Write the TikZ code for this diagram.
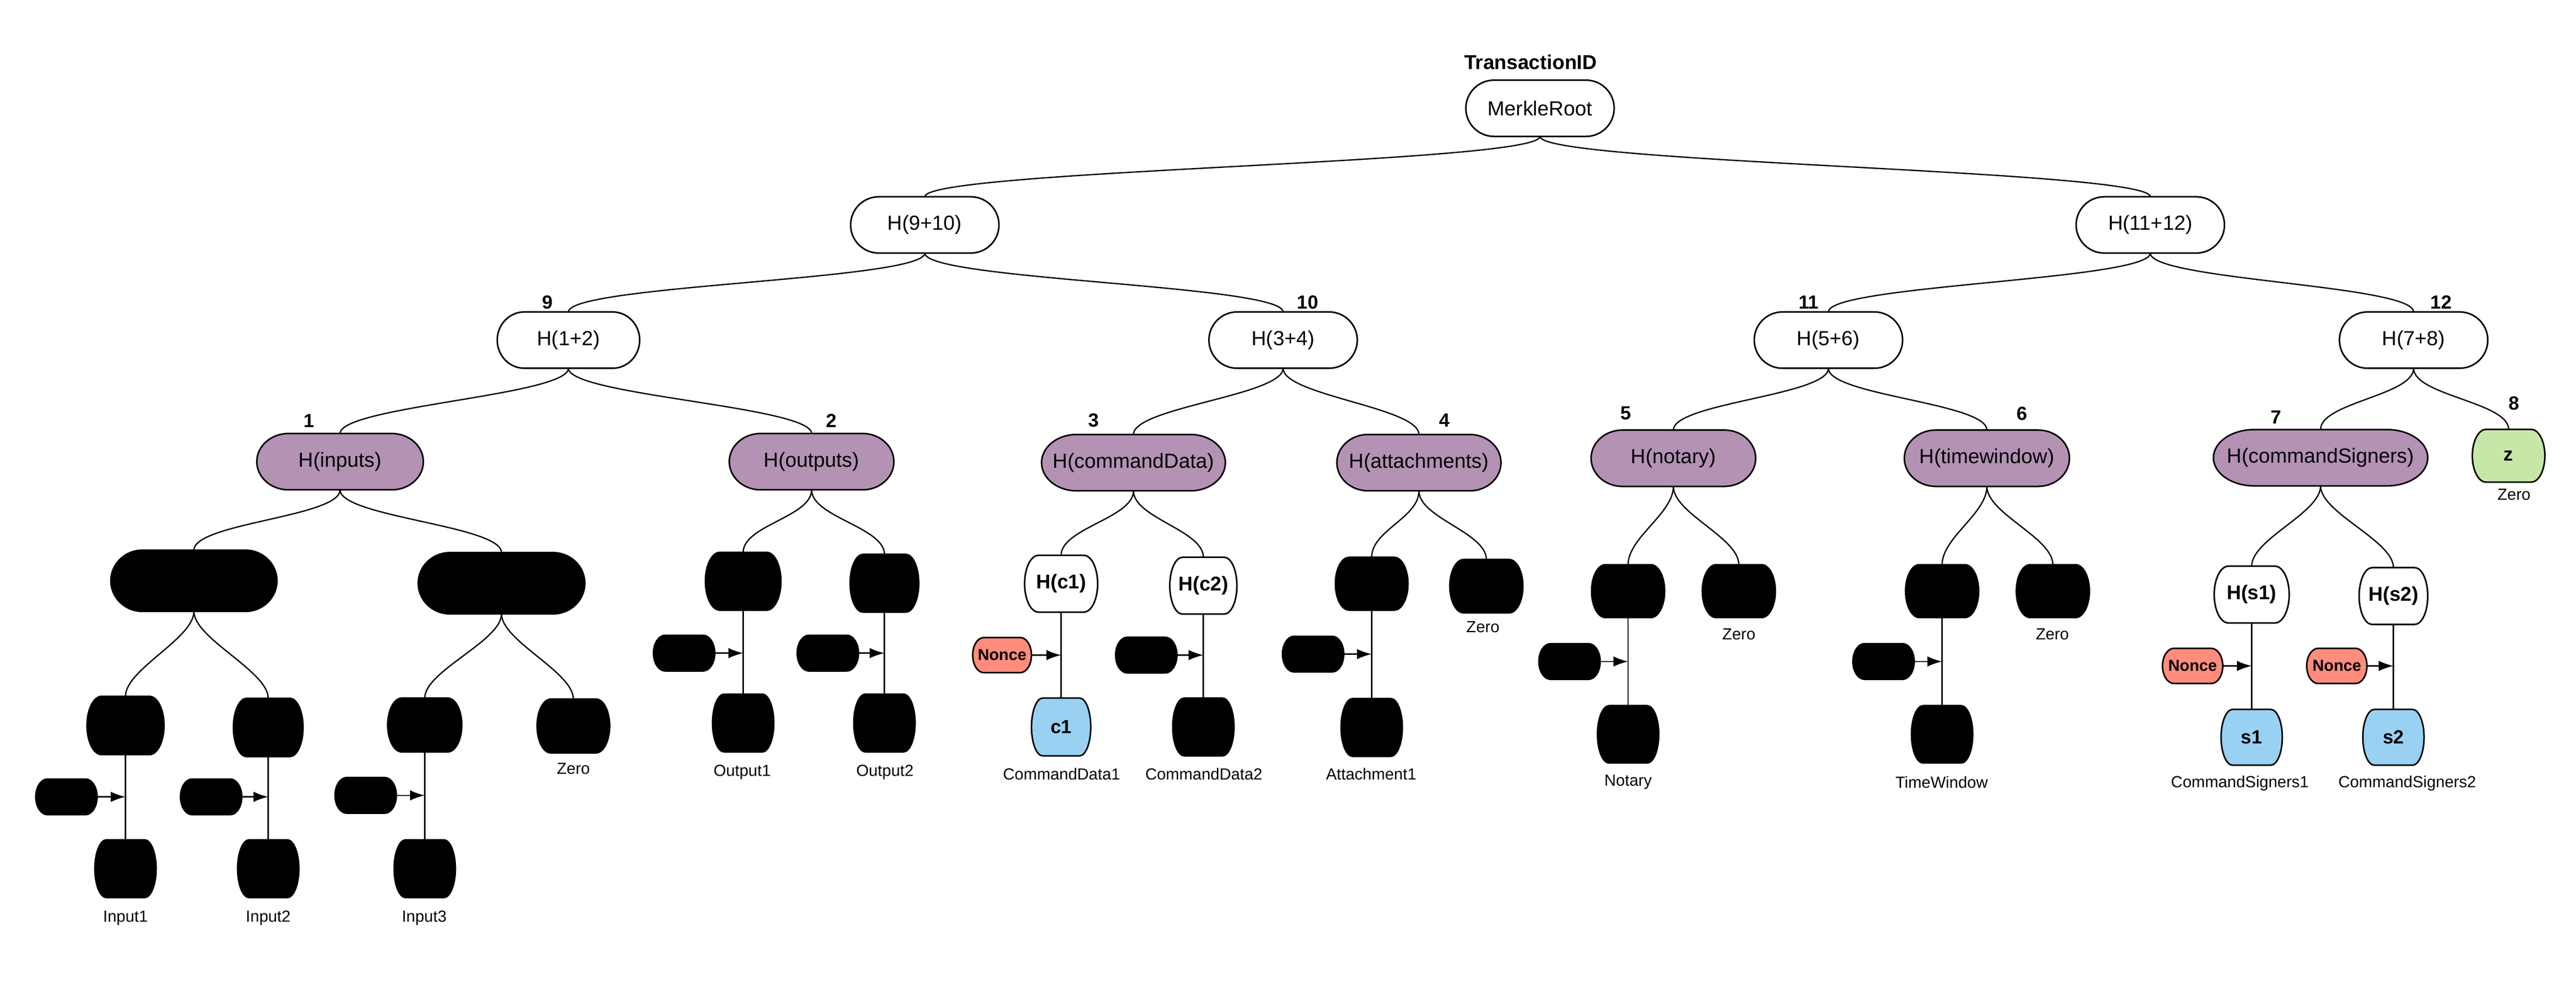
\documentclass[tikz,border=0pt]{standalone}
\usepackage{fontspec}
\setmainfont{Liberation Sans}
\usepackage{tikz}
\usetikzlibrary{calc}
\usetikzlibrary{backgrounds}
\usetikzlibrary{arrows.meta}
\tikzset{>={Latex[length=8.5pt,width=6pt]}}
\usepackage{xcolor}
\definecolor{hpurple}{RGB}{179,146,180}
\definecolor{leafblue}{RGB}{153,209,243}
\definecolor{noncered}{RGB}{255,140,125}
\definecolor{zerogreen}{RGB}{199,231,168}
\tikzstyle{hbox}=[inner sep=0pt,minimum height=1.13cm,font=\fontsize{11.8}{14}\selectfont]
\tikzstyle{wbox}=[hbox,minimum width=3cm]
\tikzstyle{pbox}=[hbox,minimum width=3.33cm]
\tikzstyle{blob}=[hbox,minimum width=3.36cm,minimum height=1.23cm]
\tikzstyle{barrel}=[hbox,minimum width=1.46cm,minimum height=1.1cm]
\tikzstyle{hbar}=[barrel,font=\bfseries\fontsize{11.5}{13}\selectfont]
\tikzstyle{lowbar}=[barrel,minimum width=1.23cm,minimum height=1.16cm]
\tikzstyle{leaf}=[lowbar,font=\bfseries\fontsize{11}{13}\selectfont]
\tikzstyle{pill}=[hbox,minimum width=1.23cm,minimum height=0.71cm]
\tikzstyle{nonce}=[pill,font=\bfseries\fontsize{9.2}{11}\selectfont]
\tikzstyle{link}=[line width=0.75pt]
\tikzstyle{feed}=[->,line width=0.75pt]
\tikzstyle{lbl}=[font=\fontsize{9.3}{11}\selectfont,inner sep=0pt]
\tikzstyle{num}=[font=\bfseries\fontsize{11}{13}\selectfont,inner sep=0pt]

% outline with elliptic ends, drawn behind a named node
\def\nodeoutline#1#2{%
  \path[draw,line width=0.9pt,fill=#2] let \p1=(#1.north east), \p2=(#1.south west),
    \n1={(\y1-\y2)/2}, \n2={0.19*(\x1-\x2)} in
    (\x2+\n2,\y1) -- (\x1-\n2,\y1) arc[start angle=90,end angle=-90,x radius=\n2,y radius=\n1]
    -- (\x2+\n2,\y2) arc[start angle=270,end angle=90,x radius=\n2,y radius=\n1] -- cycle;}

\begin{document}
\begin{tikzpicture}[y=-1cm]
  \useasboundingbox (0,0) rectangle (52.34,19.95);
  \def\d{0.55}

  % root and upper levels
  \node[num,font=\bfseries\fontsize{11.6}{14}\selectfont] (txid) at (31.10,1.26) {TransactionID};
  \node[wbox] (root) at (31.29,2.20) {MerkleRoot};
  \node[wbox] (h910) at (18.79,4.57) {H(9+10)};
  \node[wbox] (h1112) at (43.69,4.57) {H(11+12)};
  \node[wbox,minimum width=2.88cm] (h12) at (11.55,6.91) {H(1+2)};
  \node[wbox] (h34) at (26.07,6.91) {H(3+4)};
  \node[wbox] (h56) at (37.15,6.91) {H(5+6)};
  \node[wbox] (h78) at (49.04,6.91) {H(7+8)};
  \node[num] (n9) at (11.12,6.14) {9};
  \node[num] (n10) at (26.57,6.14) {10};
  \node[num] (n11) at (36.75,6.14) {11};
  \node[num] (n12) at (49.60,6.14) {12};

  % component hashes
  \node[pbox,minimum width=3.37cm] (hin) at (6.91,9.38) {H(inputs)};
  \node[pbox] (hout) at (16.49,9.38) {H(outputs)};
  \node[pbox,minimum width=3.72cm] (hcmd) at (23.03,9.40) {H(commandData)};
  \node[pbox,minimum width=3.32cm] (hatt) at (28.83,9.40) {H(attachments)};
  \node[pbox] (hnot) at (34.00,9.31) {H(notary)};
  \node[pbox,minimum width=3.34cm] (htw) at (40.37,9.31) {H(timewindow)};
  \node[pbox,minimum width=4.34cm] (hsig) at (47.15,9.30) {H(commandSigners)};
  \node[leaf,minimum width=1.46cm,minimum height=1.06cm] (z) at (50.97,9.26) {z};
  \node[lbl] (zz) at (51.08,10.05) {Zero};
  \node[num] (n1) at (6.28,8.55) {1};
  \node[num] (n2) at (16.89,8.55) {2};
  \node[num] (n3) at (22.22,8.54) {3};
  \node[num] (n4) at (29.35,8.54) {4};
  \node[num] (n5) at (33.03,8.40) {5};
  \node[num] (n6) at (41.08,8.40) {6};
  \node[num] (n7) at (46.24,8.48) {7};
  \node[num] (n8) at (51.08,8.19) {8};

  % inputs
  \node[blob] (ia) at (3.94,11.80) {};
  \node[blob,minimum width=3.37cm] (ib) at (10.19,11.85) {};
  \node[barrel,minimum width=1.55cm,minimum height=1.17cm] (ia1) at (2.55,14.74) {};
  \node[barrel,minimum width=1.40cm,minimum height=1.17cm] (ia2) at (5.45,14.78) {};
  \node[barrel,minimum width=1.49cm,minimum height=1.08cm] (ib1) at (8.63,14.73) {};
  \node[barrel,minimum height=1.08cm] (ib2) at (11.65,14.75) {};
  \node[lbl] (zin) at (11.65,15.62) {Zero};
  \node[pill] (k1) at (1.35,16.19) {};
  \node[pill] (k2) at (4.29,16.19) {};
  \node[pill] (k3) at (7.43,16.16) {};
  \node[lowbar] (ia1b) at (2.55,17.65) {};
  \node[lowbar] (ia2b) at (5.45,17.65) {};
  \node[lowbar] (ib1b) at (8.63,17.65) {};
  \node[lbl] (in1) at (2.55,18.65) {Input1};
  \node[lbl] (in2) at (5.45,18.65) {Input2};
  \node[lbl] (in3) at (8.62,18.65) {Input3};

  % outputs
  \node[barrel,minimum width=1.52cm,minimum height=1.16cm] (oa) at (15.10,11.81) {};
  \node[barrel,minimum width=1.38cm,minimum height=1.16cm] (ob) at (17.97,11.85) {};
  \node[pill] (k4) at (13.90,13.27) {};
  \node[pill] (k5) at (16.82,13.27) {};
  \node[lowbar,minimum height=1.16cm] (oab) at (15.10,14.69) {};
  \node[lowbar,minimum height=1.16cm] (obb) at (17.97,14.69) {};
  \node[lbl] (out1) at (15.08,15.69) {Output1};
  \node[lbl] (out2) at (17.98,15.69) {Output2};

  % command data
  \node[hbar,minimum width=1.47cm,minimum height=1.14cm] (hc1) at (21.56,11.86) {H(c1)};
  \node[hbar,minimum width=1.35cm,minimum height=1.14cm] (hc2) at (24.45,11.90) {H(c2)};
  \node[nonce,minimum width=1.18cm,minimum height=0.70cm] (nc1) at (20.36,13.31) {Nonce};
  \node[pill] (k6) at (23.29,13.31) {};
  \node[leaf,minimum width=1.19cm] (c1) at (21.56,14.77) {c1};
  \node[lowbar] (cd2) at (24.45,14.77) {};
  \node[lbl] (cdl1) at (21.57,15.73) {CommandData1};
  \node[lbl] (cdl2) at (24.46,15.73) {CommandData2};

  % attachments
  \node[barrel,minimum height=1.06cm] (at1) at (27.87,11.86) {};
  \node[barrel,minimum width=1.47cm,minimum height=1.07cm] (at2) at (30.20,11.91) {};
  \node[lbl] (zat) at (30.13,12.74) {Zero};
  \node[pill] (k7) at (26.68,13.29) {};
  \node[lowbar] (at1b) at (27.87,14.78) {};
  \node[lbl] (atl) at (27.86,15.73) {Attachment1};

  % notary
  \node[barrel,minimum width=1.47cm,minimum height=1.06cm] (no1) at (33.08,12.01) {};
  \node[barrel,minimum width=1.47cm,minimum height=1.06cm] (no2) at (35.33,12.01) {};
  \node[lbl] (zno) at (35.33,12.89) {Zero};
  \node[pill] (k8) at (31.89,13.44) {};
  \node[lowbar,minimum height=1.15cm] (no1b) at (33.08,14.92) {};
  \node[lbl] (nol) at (33.08,15.89) {Notary};

  % time window
  \node[barrel,minimum width=1.47cm,minimum height=1.06cm] (tw1) at (39.46,12.01) {};
  \node[barrel,minimum width=1.47cm,minimum height=1.06cm] (tw2) at (41.71,12.01) {};
  \node[lbl] (ztw) at (41.70,12.89) {Zero};
  \node[pill] (k9) at (38.27,13.44) {};
  \node[lowbar,minimum height=1.15cm] (tw1b) at (39.46,14.92) {};
  \node[lbl] (twl) at (39.45,15.89) {TimeWindow};

  % command signers
  \node[hbar,minimum width=1.51cm,minimum height=1.14cm] (hs1) at (45.75,12.08) {H(s1)};
  \node[hbar,minimum width=1.38cm,minimum height=1.14cm] (hs2) at (48.63,12.11) {H(s2)};
  \node[nonce,minimum width=1.21cm,minimum height=0.70cm] (ns1) at (44.55,13.53) {Nonce};
  \node[nonce,minimum width=1.21cm,minimum height=0.70cm] (ns2) at (47.48,13.53) {Nonce};
  \node[leaf,minimum height=1.12cm] (s1) at (45.75,14.98) {s1};
  \node[leaf,minimum height=1.12cm] (s2) at (48.63,14.98) {s2};
  \node[lbl] (sl1) at (45.51,15.92) {CommandSigners1};
  \node[lbl] (sl2) at (48.91,15.92) {CommandSigners2};

  % outlines behind the nodes
  \begin{scope}[on background layer]
    \foreach \nd in {root,h910,h1112,h12,h34,h56,h78,hc1,hc2,hs1,hs2}
      {\nodeoutline{\nd}{white}}
    \foreach \nd in {hin,hout,hcmd,hatt,hnot,htw,hsig}
      {\nodeoutline{\nd}{hpurple}}
    \foreach \nd in {ia,ib,ia1,ia2,ib1,ib2,k1,k2,k3,ia1b,ia2b,ib1b,oa,ob,k4,k5,oab,obb,
                     k6,cd2,at1,at2,k7,at1b,no1,no2,k8,no1b,tw1,tw2,k9,tw1b}
      {\nodeoutline{\nd}{black}}
    \foreach \nd in {nc1,ns1,ns2}
      {\nodeoutline{\nd}{noncered}}
    \foreach \nd in {c1,s1,s2}
      {\nodeoutline{\nd}{leafblue}}
    \nodeoutline{z}{zerogreen}
  \end{scope}

  % tree links
  \foreach \a/\b in {root/h910,root/h1112,h910/h12,h910/h34,h1112/h56,h1112/h78,
                     h12/hin,h12/hout,h34/hcmd,h34/hatt,h56/hnot,h56/htw,h78/hsig,h78/z,
                     hin/ia,hin/ib,ia/ia1,ia/ia2,ib/ib1,ib/ib2,hout/oa,hout/ob,
                     hcmd/hc1,hcmd/hc2,hatt/at1,hatt/at2,hnot/no1,hnot/no2,
                     htw/tw1,htw/tw2,hsig/hs1,hsig/hs2}
    \draw[link] (\a.south) .. controls +(0,\d) and +(0,-\d) .. (\b.north);

  % leaf lines
  \foreach \a/\b in {ia1/ia1b,ia2/ia2b,ib1/ib1b,oa/oab,ob/obb,hc1/c1,hc2/cd2,
                     at1/at1b,no1/no1b,tw1/tw1b,hs1/s1,hs2/s2}
    \draw[link] (\a.south) -- (\b.north);

  % salts
  \foreach \k/\a in {k1/ia1,k2/ia2,k3/ib1,k4/oa,k5/ob,nc1/hc1,k6/hc2,
                     k7/at1,k8/no1,k9/tw1,ns1/hs1,ns2/hs2}
    \draw[feed] (\k.east) -- (\k.east -| \a.south);

\end{tikzpicture}
\end{document}
